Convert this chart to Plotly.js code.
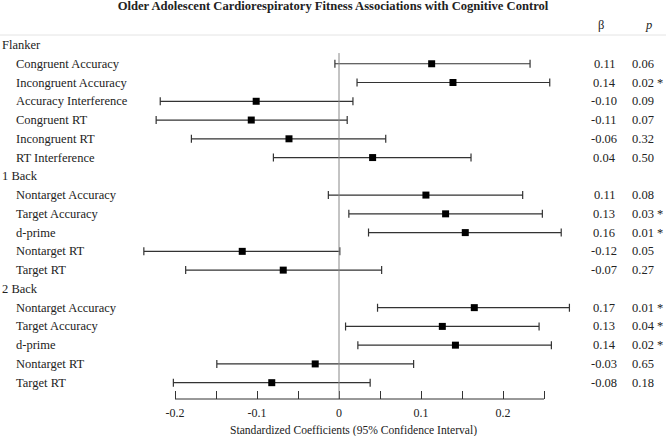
<!DOCTYPE html>
<html>
<head>
<meta charset="utf-8">
<script src="https://cdn.plot.ly/plotly-3.0.1.min.js"></script>
<style>
  html, body { margin: 0; padding: 0; background: #fff; }
  #chart { width: 666px; height: 436px; }
</style>
</head>
<body>
<div id="chart"></div>
<script>
// task groups and their measures, top to bottom
const taskGroups = ['Flanker', '1 Back', '2 Back'];
const flankerMeasures = ['Congruent Accuracy', 'Incongruent Accuracy', 'Accuracy Interference', 'Congruent RT', 'Incongruent RT', 'RT Interference'];
const oneBackMeasures = ['Nontarget Accuracy', 'Target Accuracy', 'd-prime', 'Nontarget RT', 'Target RT'];
const twoBackMeasures = ['Nontarget Accuracy', 'Target Accuracy', 'd-prime', 'Nontarget RT', 'Target RT'];

// estimates and 95% CI bounds
const estimate = [0.113, 0.139, -0.101, -0.107, -0.061, 0.041, 0.106, 0.130, 0.154, -0.118, -0.068, 0.165, 0.126, 0.142, -0.029, -0.082];
const ciLow = [-0.005, 0.022, -0.218, -0.223, -0.180, -0.080, -0.013, 0.012, 0.036, -0.238, -0.187, 0.047, 0.008, 0.023, -0.149, -0.202];
const ciHigh = [0.233, 0.257, 0.017, 0.010, 0.057, 0.161, 0.224, 0.248, 0.271, 0.001, 0.052, 0.281, 0.244, 0.259, 0.091, 0.038];

// printed columns
const betaText = ['0.11', '0.14', '-0.10', '-0.11', '-0.06', '0.04', '0.11', '0.13', '0.16', '-0.12', '-0.07', '0.17', '0.13', '0.14', '-0.03', '-0.08'];
const pText = ['0.06', '0.02 *', '0.09', '0.07', '0.32', '0.50', '0.08', '0.03 *', '0.01 *', '0.05', '0.27', '0.01 *', '0.04 *', '0.02 *', '0.65', '0.18'];

// x axis ticks
const tickVals = [-0.2, -0.15, -0.1, -0.05, 0, 0.05, 0.1, 0.15, 0.2, 0.25];
const tickText = ['-0.2', '', '-0.1', '', '0', '', '0.1', '', '0.2', ''];

const serif = 'Liberation Serif, Times New Roman, serif';
const textColor = '#222';

// lay the rows out: a header row for each task, then its measures
const rowLabel = [];
const rowHeader = [];
const measureRow = [];
[flankerMeasures, oneBackMeasures, twoBackMeasures].forEach(function (list, g) {
    rowLabel.push(taskGroups[g]);
    rowHeader.push(true);
    list.forEach(function (m) {
        measureRow.push(rowLabel.length);
        rowLabel.push(m);
        rowHeader.push(false);
    });
});
const lastRow = rowLabel.length - 1;

const trace = {
    x: estimate,
    y: measureRow,
    type: 'scatter',
    mode: 'markers',
    marker: { symbol: 'square', size: 7, color: '#000' },
    error_x: {
        type: 'data',
        symmetric: false,
        array: estimate.map((v, i) => ciHigh[i] - v),
        arrayminus: estimate.map((v, i) => v - ciLow[i]),
        color: '#333',
        thickness: 1.2,
        width: 4
    },
    hoverinfo: 'skip',
    showlegend: false
};

const annotations = [];
rowLabel.forEach(function (label, i) {
    annotations.push({
        text: label, xref: 'paper', yref: 'y', x: rowHeader[i] ? 0 : 0.021, y: i,
        xanchor: 'left', yanchor: 'middle', showarrow: false,
        font: { family: serif, size: 12.5, color: textColor }
    });
});
measureRow.forEach(function (r, i) {
    annotations.push({
        text: betaText[i], xref: 'paper', yref: 'y', x: 604 / 666, y: r,
        xanchor: 'center', yanchor: 'middle', showarrow: false,
        font: { family: serif, size: 12.5, color: textColor }
    });
    annotations.push({
        text: pText[i], xref: 'paper', yref: 'y', x: 630 / 666, y: r,
        xanchor: 'left', yanchor: 'middle', showarrow: false,
        font: { family: serif, size: 12.5, color: textColor }
    });
});
// column headers
annotations.push({
    text: 'β', xref: 'paper', yref: 'paper', x: 601 / 666, y: 1.027,
    xanchor: 'center', yanchor: 'middle', showarrow: false,
    font: { family: serif, size: 12.5, color: textColor }
});
annotations.push({
    text: '<i>p</i>', xref: 'paper', yref: 'paper', x: 648 / 666, y: 1.027,
    xanchor: 'center', yanchor: 'middle', showarrow: false,
    font: { family: serif, size: 12.5, color: textColor }
});
// axis title
annotations.push({
    text: 'Standardized Coefficients (95% Confidence Interval)', xref: 'paper', yref: 'paper',
    x: 353 / 666, y: -0.086, xanchor: 'center', yanchor: 'middle', showarrow: false,
    font: { family: serif, size: 11.6, color: textColor }
});

const layout = {
    width: 666,
    height: 436,
    margin: { l: 0, r: 0, t: 35, b: 37 },
    paper_bgcolor: '#fff',
    plot_bgcolor: '#fff',
    title: {
        text: '<b>Older Adolescent Cardiorespiratory Fitness Associations with Cognitive Control</b>',
        x: 0.5, xanchor: 'center', y: 0.988, yanchor: 'middle',
        font: { family: serif, size: 12.6, color: textColor }
    },
    xaxis: {
        range: [-339 / 820, 327 / 820],
        tickvals: tickVals,
        ticktext: tickText,
        ticks: 'inside',
        ticklen: 8,
        tickcolor: '#333',
        tickwidth: 1,
        ticklabelstandoff: 5,
        showgrid: false,
        showline: false,
        zeroline: false,
        tickfont: { family: serif, size: 12, color: textColor },
        fixedrange: true
    },
    yaxis: {
        range: [lastRow + 0.87, -0.533],
        showgrid: false,
        zeroline: false,
        showticklabels: false,
        ticks: '',
        fixedrange: true
    },
    shapes: [
        // reference line at zero, starting below the first task header
        { type: 'line', xref: 'x', yref: 'y', x0: 0, x1: 0, y0: 0.43, y1: lastRow + 0.87, line: { color: '#888', width: 1 } },
        // bottom axis line only under the ticked span
        { type: 'line', xref: 'x', yref: 'paper', x0: -0.2, x1: 0.25, y0: 0, y1: 0, line: { color: '#333', width: 1 } },
        // light rule under the column headers
        { type: 'line', xref: 'paper', yref: 'paper', x0: 0, x1: 1, y0: 1, y1: 1, line: { color: '#e4e4e4', width: 1 } }
    ],
    annotations: annotations
};

Plotly.newPlot('chart', [trace], layout, { displayModeBar: false, staticPlot: true });
</script>
</body>
</html>
